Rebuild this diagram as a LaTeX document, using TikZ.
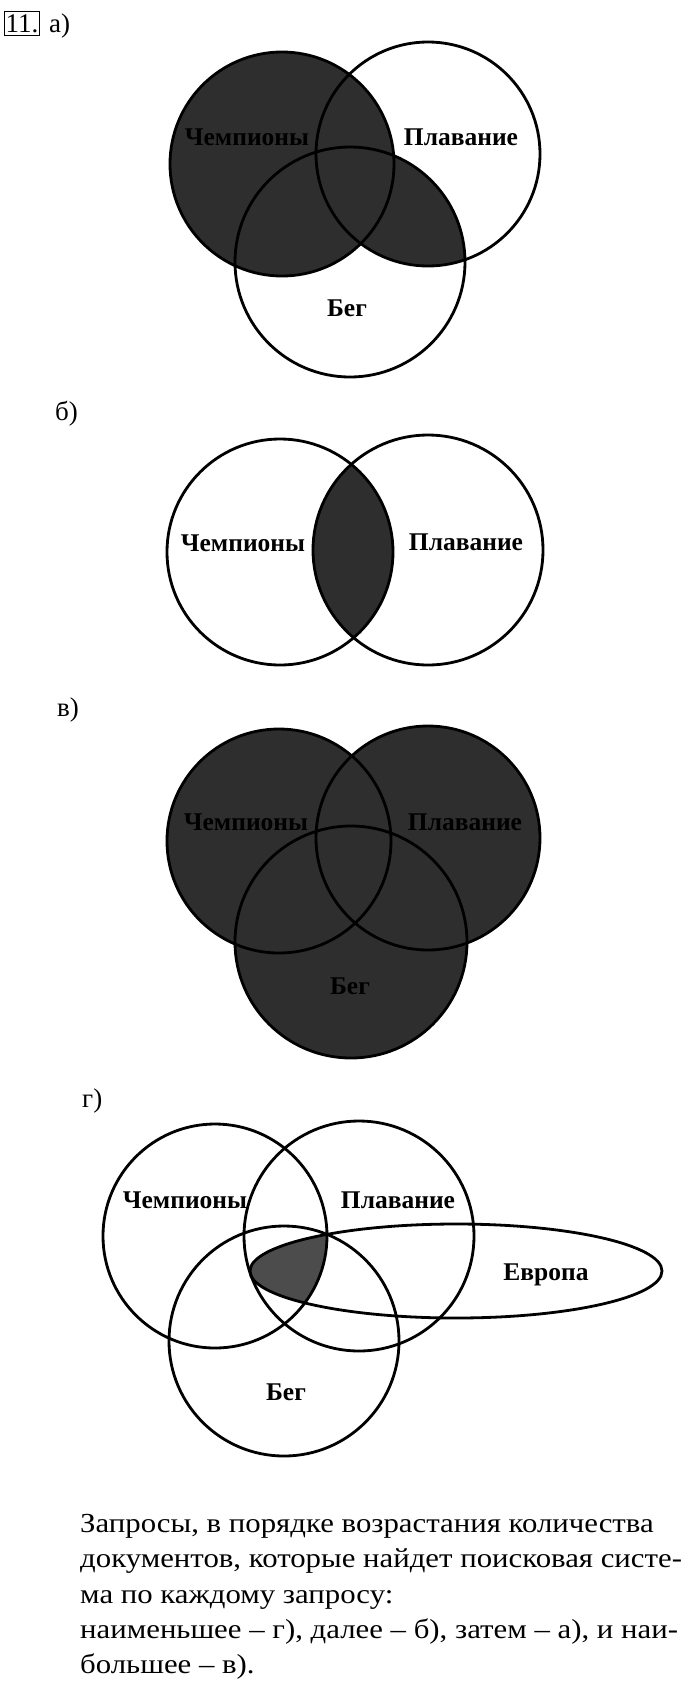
\documentclass[tikz,border=0pt]{standalone}
\usepackage{fontspec}
\setmainfont{Liberation Serif}
\newfontfamily\bodyfont[FakeStretch=1.12]{Liberation Serif}
\begin{document}
\begin{tikzpicture}[x=1pt,y=-1pt,
  lab/.style={font=\fontsize{25.5}{30}\selectfont\bfseries, inner sep=0pt, anchor=base},
  tag/.style={font=\fontsize{27}{30}\selectfont, inner sep=0pt, anchor=base west},
  body/.style={font=\bodyfont\fontsize{27.5}{32}\selectfont, inner sep=0pt, anchor=base west},
  ring/.style={line width=2.8pt},
  darkfill/.style={fill=black!82},
  midfill/.style={fill=black!70}]
\useasboundingbox (0,0) rectangle (700,1690);

% header
\node[draw, line width=1pt, inner xsep=1pt, inner ysep=3pt, anchor=base west, font=\fontsize{27}{30}\selectfont] (num) at (4,32) {11.};
\node[tag] (ta) at (49,32) {а)};

% ---------- a)
\coordinate (aL) at (282,164);
\coordinate (aR) at (428,154);
\coordinate (aB) at (350,262);
\fill[darkfill] (aL) circle (112pt);
\begin{scope}
  \clip (aR) circle (112pt);
  \fill[darkfill] (aB) circle (115pt);
\end{scope}
\draw[ring] (aL) circle (112pt);
\draw[ring] (aR) circle (112pt);
\draw[ring] (aB) circle (115pt);
\node[lab] (aCh) at (247,145) {Чемпионы};
\node[lab] (aPl) at (461,145) {Плавание};
\node[lab] (aBe) at (347,316) {Бег};

% ---------- б)
\node[tag] (tb) at (55,420) {б)};
\coordinate (bL) at (280,552);
\coordinate (bR) at (428,550);
\begin{scope}
  \clip (bL) circle (113pt);
  \fill[darkfill] (bR) circle (115pt);
\end{scope}
\draw[ring] (bL) circle (113pt);
\draw[ring] (bR) circle (115pt);
\node[lab] (bCh) at (243,551) {Чемпионы};
\node[lab] (bPl) at (466,550) {Плавание};

% ---------- в)
\node[tag] (tv) at (57,716) {в)};
\coordinate (vL) at (279,841);
\coordinate (vR) at (428,838);
\coordinate (vB) at (351,942);
\fill[darkfill] (vL) circle (112pt);
\fill[darkfill] (vR) circle (112pt);
\fill[darkfill] (vB) circle (116pt);
\draw[ring] (vL) circle (112pt);
\draw[ring] (vR) circle (112pt);
\draw[ring] (vB) circle (116pt);
\node[lab] (vCh) at (246,830) {Чемпионы};
\node[lab] (vPl) at (465,830) {Плавание};
\node[lab] (vBe) at (350,994) {Бег};

% ---------- г)
\node[tag] (tg) at (82,1107) {г)};
\coordinate (gL) at (215,1236);
\coordinate (gR) at (359,1236);
\coordinate (gB) at (284,1341);
\coordinate (gE) at (456,1271);
\begin{scope}
  \clip (gL) circle (112pt);
  \clip (gR) circle (115pt);
  \clip (gB) circle (115pt);
  \fill[midfill] (gE) ellipse (206pt and 47pt);
\end{scope}
\draw[ring] (gL) circle (112pt);
\draw[ring] (gR) circle (115pt);
\draw[ring] (gB) circle (115pt);
\draw[ring] (gE) ellipse (206pt and 47pt);
\node[lab] (gCh) at (185,1208) {Чемпионы};
\node[lab] (gPl) at (398,1208) {Плавание};
\node[lab] (gBe) at (286,1400) {Бег};
\node[lab] (gEu) at (546,1280) {Европа};

% ---------- answer text
\node[body] (t1) at (80,1532) {Запросы, в порядке возрастания количества};
\node[body] (t2) at (80,1567) {документов, которые найдет поисковая систе-};
\node[body] (t3) at (80,1603) {ма по каждому запросу:};
\node[body] (t4) at (80,1638) {наименьшее – г), далее – б), затем – а), и наи-};
\node[body] (t5) at (80,1673) {большее – в).};
\end{tikzpicture}
\end{document}
